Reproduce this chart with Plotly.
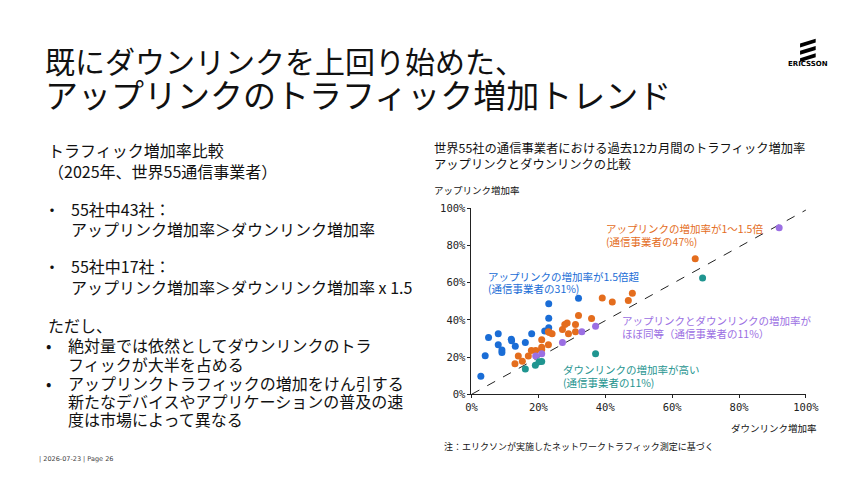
import plotly.graph_objects as go

# ---------------- data (percent) ----------------
blue_x = [2.8, 4.1, 5.1, 8.0, 8.0, 9.1, 9.1, 11.9, 12.0, 13.1, 16.1, 18.0, 21.9, 23.1, 23.1, 23.1, 32.0]
blue_y = [9.7, 20.7, 30.5, 32.6, 26.7, 23.9, 22.5, 29.6, 28.8, 25.8, 27.9, 32.6, 34.0, 48.7, 40.9, 35.8, 51.6]

orange_x = [13.0, 14.0, 15.2, 17.0, 17.9, 19.2, 21.0, 21.0, 21.0, 23.0, 23.0, 24.1, 27.2, 27.9, 28.6,
            29.0, 31.1, 31.1, 32.0, 35.9, 39.1, 42.1, 46.9, 48.1, 66.9, 23.3]
orange_y = [16.4, 20.6, 17.8, 20.6, 23.6, 23.6, 29.3, 25.3, 24.1, 26.7, 33.7, 32.6, 34.9, 37.5, 38.4,
            32.6, 37.5, 33.7, 42.4, 40.7, 51.7, 49.6, 50.4, 54.3, 72.8, 33.2]

purple_x = [19.2, 21.0, 27.2, 33.0, 37.1, 92.0]
purple_y = [20.6, 21.8, 27.9, 33.7, 36.6, 89.5]

teal_x = [16.1, 19.1, 20.2, 21.0, 37.1, 69.1]
teal_y = [13.6, 15.7, 17.5, 17.6, 21.8, 62.5]

diag_x = [0, 100]
diag_y = [0, 99]

tick_vals = [0, 20, 40, 60, 80, 100]
tick_text = ["0%", "20%", "40%", "60%", "80%", "100%"]

series = [
    ("blue", blue_x, blue_y, "#1a6dd6"),
    ("orange", orange_x, orange_y, "#e46d1d"),
    ("purple", purple_x, purple_y, "#9b6fe3"),
    ("teal", teal_x, teal_y, "#1f9590"),
]

W, H = 860, 483
JP = "Noto Sans CJK JP"


def px(x, y):
    return x / W, 1 - y / H


fig = go.Figure()

fig.add_trace(go.Scatter(x=diag_x, y=diag_y, mode="lines",
                         line=dict(color="#222222", width=1, dash="dash"),
                         hoverinfo="skip", showlegend=False))

for name, xs, ys, col in series:
    fig.add_trace(go.Scatter(x=xs, y=ys, mode="markers", name=name,
                             marker=dict(color=col, size=7, line=dict(width=0)),
                             showlegend=False))

x0, x1 = px(476, 0)[0], px(818, 0)[0]
yb, yt = px(0, 398.3)[1], px(0, 207.3)[1]

axis_common = dict(showgrid=False, zeroline=False, showline=True, linecolor="#222222",
                   linewidth=1, ticks="outside", ticklen=3, tickcolor="#222222",
                   tickmode="array", tickvals=tick_vals, ticktext=tick_text,
                   tickfont=dict(family="DejaVu Sans Mono", size=10.5, color="#222222"))

fig.update_layout(
    width=W, height=H,
    margin=dict(l=0, r=0, t=0, b=0),
    paper_bgcolor="white", plot_bgcolor="white",
    xaxis=dict(domain=[x0, x1], range=[0, 100], **axis_common),
    yaxis=dict(domain=[yb, yt], range=[0, 100], **axis_common),
)


def text(x, y, s, size, color="#111111", family=JP, xanchor="left"):
    ax, ay = px(x, y)
    fig.add_annotation(x=ax, y=ay, xref="paper", yref="paper", text=s, showarrow=False,
                       xanchor=xanchor, yanchor="middle",
                       font=dict(family=family, size=size, color=color))


# Title
text(38, 55, "既にダウンリンクを上回り始めた、", 30)
text(38, 90, "アップリンクのトラフィック増加トレンド", 33)

# Left text block
text(41, 148, "トラフィック増加率比較", 16)
text(41, 169, "（2025年、世界55通信事業者）", 16)
text(37, 208, "・", 16)
text(64, 208, "55社中43社：", 16)
text(64, 229, "アップリンク増加率＞ダウンリンク増加率", 16)
text(37, 267, "・", 16)
text(64, 267, "55社中17社：", 16)
text(64, 288, "アップリンク増加率＞ダウンリンク増加率 x 1.5", 16)
text(41, 327, "ただし、", 16)
text(39, 348, "•", 16)
text(61, 348, "絶対量では依然としてダウンリンクのトラ", 16)
text(61, 367, "フィックが大半を占める", 16)
text(39, 387, "•", 16)
text(61, 387, "アップリンクトラフィックの増加をけん引する", 16)
text(61, 405, "新たなデバイスやアプリケーションの普及の速", 16)
text(61, 424, "度は市場によって異なる", 16)

# Footer
text(32, 465, "| 2026-07-23 | Page 26", 6.5, color="#444444", family="DejaVu Sans")

# Chart titles
text(436, 146, "世界55社の通信事業者における過去12カ月間のトラフィック増加率", 12.3)
text(436, 162, "アップリンクとダウンリンクの比較", 12.3)
text(436, 189, "アップリンク増加率", 9.5)
text(831, 433, "ダウンリンク増加率", 9.5, xanchor="right")
text(446, 452, "注：エリクソンが実施したネットワークトラフィック測定に基づく", 9)

# Series annotations
text(611, 228, "アップリンクの増加率が1～1.5倍", 10.5, color="#e46d1d")
text(611, 242, "(通信事業者の47%)", 10.5, color="#e46d1d")
text(491, 277, "アップリンクの増加率が1.5倍超", 10.5, color="#1a6dd6")
text(491, 290, "(通信事業者の31%)", 10.5, color="#1a6dd6")
text(628, 323, "アップリンクとダウンリンクの増加率が", 10.5, color="#9b6fe3")
text(628, 336, "ほぼ同等（通信事業者の11%）", 10.5, color="#9b6fe3")
text(568, 373, "ダウンリンクの増加率が高い", 10.5, color="#1f9590")
text(568, 386, "(通信事業者の11%)", 10.5, color="#1f9590")

# Ericsson logo (decoration)
for i in range(3):
    off = 7.5 * i
    pts = [(812, 38.5 + off), (828, 33.5 + off), (828, 37.5 + off), (812, 42.5 + off)]
    path = "M " + " L ".join(f"{px(a, b)[0]:.5f},{px(a, b)[1]:.5f}" for a, b in pts) + " Z"
    fig.add_shape(type="path", path=path, xref="paper", yref="paper",
                  fillcolor="#000000", line=dict(width=0))
text(820, 59, "<b>ERICSSON</b>", 7, color="#000000", family="DejaVu Sans", xanchor="center")

fig.write_html("out.html")
